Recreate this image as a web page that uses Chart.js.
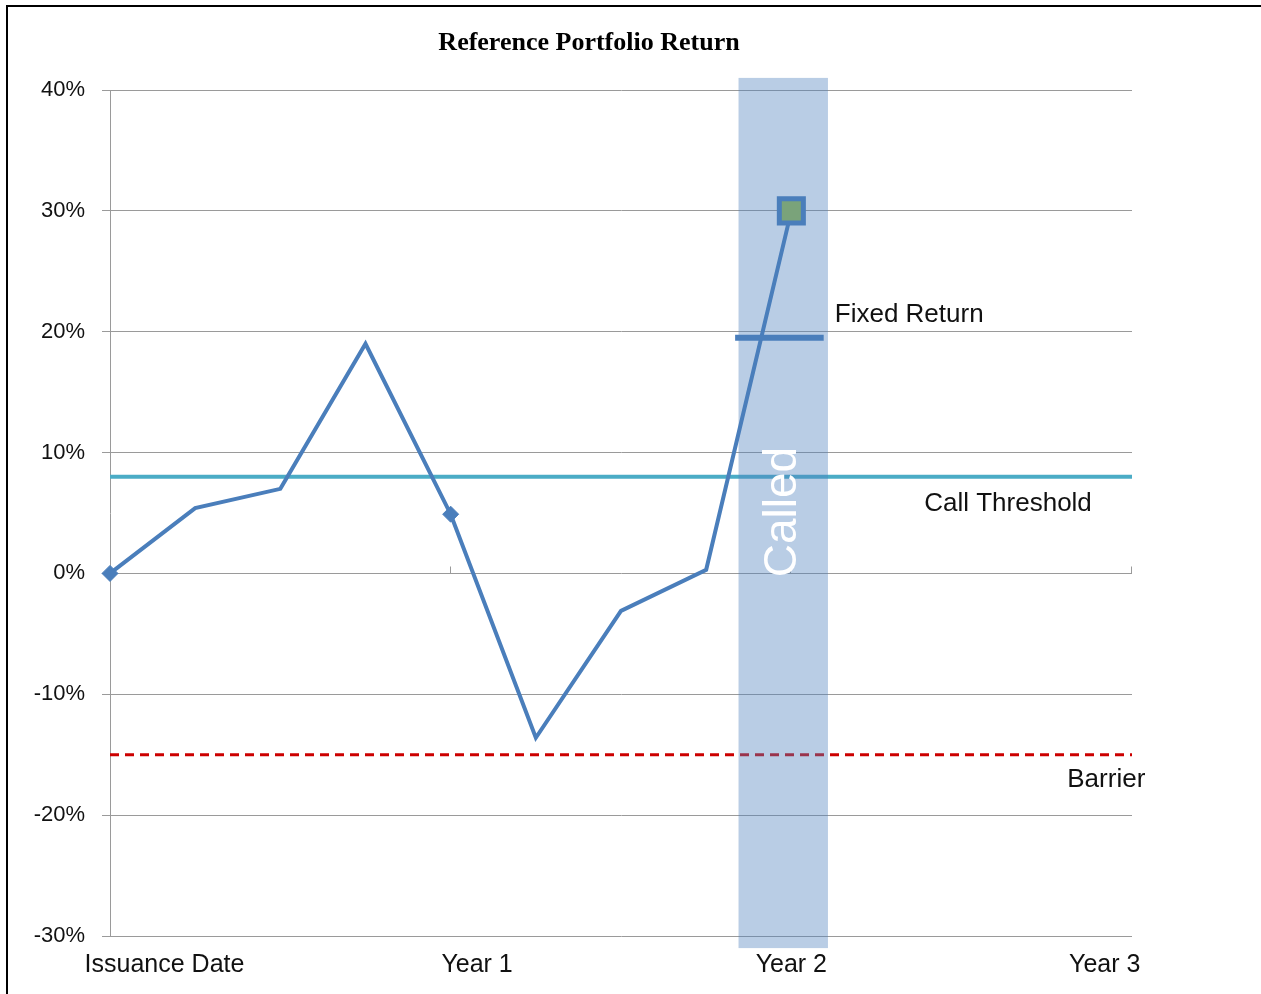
<!DOCTYPE html>
<html>
<head>
<meta charset="utf-8">
<title>Reference Portfolio Return</title>
<script src="https://cdn.jsdelivr.net/npm/chart.js@4.4.0/dist/chart.umd.min.js"></script>
<style>
  body { margin: 0; background: #fff; }
  #wrap { position: relative; width: 1261px; height: 994px; }
  #frame { position: absolute; left: 6px; top: 5px; right: 0; bottom: 0;
           border-left: 2px solid #000; border-top: 2px solid #000; pointer-events: none; }
</style>
</head>
<body>
<div id="wrap">
  <canvas id="myChart" width="1261" height="994"></canvas>
  <div id="frame"></div>
</div>
<script>
// quarters since issuance, and the portfolio return (%) at each one
let quarters = [0, 1, 2, 3, 4, 5, 6, 7, 8];
let portfolio_returns = [0, 5.4, 7.0, 19.0, 4.9, -13.6, -3.1, 0.3, 30];

let call_threshold = 8;
let barrier = -15;
let fixed_return = 19.5;
let fixed_return_span = [7.34, 8.38];   // quarters
let called_span = [7.38, 8.43];         // quarters
let called_band_y = [-31, 41];          // band runs a little past the axes

let x_labels = ['Issuance Date', 'Year 1', 'Year 2', 'Year 3'];
let x_label_at = [0.64, 4.31, 8.0, 11.68];
let year_marks = [4, 8, 12];

let y_min = -30;
let y_max = 40;
let y_step = 10;

let notes = [
  { text: 'Fixed Return', x: 8.51, y: 21.4 },
  { text: 'Call Threshold', x: 9.56, y: 5.74 },
  { text: 'Barrier', x: 11.24, y: -17.1 }
];
let called_text = { text: 'Called', x: 7.91, y: 5.08 };

const LINE_BLUE = '#4a7ebb';
const GRID = '#9a9a9a';

function pairs(xs, ys) {
  return xs.map(function (x, i) { return { x: x, y: ys[i] }; });
}

const extras = {
  id: 'extras',
  beforeDatasetsDraw(chart) {
    // little tick marks on the 0% line at each year
    const ctx = chart.ctx, x = chart.scales.x, y = chart.scales.y;
    const y0 = Math.round(y.getPixelForValue(0)) + 0.5;
    ctx.save();
    ctx.strokeStyle = GRID;
    ctx.lineWidth = 1;
    year_marks.forEach(function (v) {
      const px = Math.round(x.getPixelForValue(v)) - 0.5;
      ctx.beginPath();
      ctx.moveTo(px, y0);
      ctx.lineTo(px, y0 - 7);
      ctx.stroke();
    });
    ctx.restore();
  },
  beforeDatasetDraw(chart, args) {
    if (chart.data.datasets[args.index].label !== 'Reference Portfolio') return;
    const ctx = chart.ctx, x = chart.scales.x, y = chart.scales.y;
    const x1 = x.getPixelForValue(called_span[0]);
    const x2 = x.getPixelForValue(called_span[1]);
    const yt = y.getPixelForValue(called_band_y[1]);
    const yb = y.getPixelForValue(called_band_y[0]);
    ctx.save();
    ctx.fillStyle = 'rgba(79,129,189,0.4)';
    ctx.fillRect(x1, yt, x2 - x1, yb - yt);
    ctx.translate(x.getPixelForValue(called_text.x), y.getPixelForValue(called_text.y));
    ctx.rotate(-Math.PI / 2);
    ctx.fillStyle = '#ffffff';
    ctx.font = '46px "Liberation Sans", Arial, sans-serif';
    ctx.textAlign = 'center';
    ctx.textBaseline = 'middle';
    ctx.fillText(called_text.text, 0, 0);
    ctx.restore();
  },
  afterDraw(chart) {
    const ctx = chart.ctx, x = chart.scales.x, y = chart.scales.y;
    ctx.save();
    ctx.fillStyle = '#111';
    ctx.font = '26px "Liberation Sans", Arial, sans-serif';
    ctx.textAlign = 'left';
    ctx.textBaseline = 'middle';
    notes.forEach(function (n) {
      ctx.fillText(n.text, x.getPixelForValue(n.x), y.getPixelForValue(n.y));
    });
    ctx.fillStyle = '#000';
    ctx.font = 'bold 26px "Liberation Serif", "Times New Roman", serif';
    ctx.textAlign = 'center';
    ctx.fillText('Reference Portfolio Return', 589, 43);
    ctx.restore();
  }
};

let myChart = new Chart(document.getElementById('myChart'), {
  type: 'line',
  data: {
    datasets: [
      {
        label: 'Fixed Return',
        data: pairs(fixed_return_span, [fixed_return, fixed_return]),
        borderColor: LINE_BLUE,
        borderWidth: 6,
        pointRadius: 0,
        order: 0
      },
      {
        label: 'Reference Portfolio',
        data: pairs(quarters, portfolio_returns),
        borderColor: LINE_BLUE,
        backgroundColor: function (c) { return c.dataIndex === 8 ? '#7aa37a' : LINE_BLUE; },
        borderWidth: 4,
        tension: 0,
        clip: false,
        pointStyle: function (c) { return c.dataIndex === 8 ? 'rect' : 'rectRot'; },
        pointRadius: [8, 0, 0, 0, 8, 0, 0, 0, 17],
        pointBorderWidth: [1, 0, 0, 0, 1, 0, 0, 0, 5],
        pointBorderColor: LINE_BLUE,
        order: 1
      },
      {
        label: 'Call Threshold',
        data: pairs([0, 12], [call_threshold, call_threshold]),
        borderColor: '#4bacc6',
        borderWidth: 4,
        pointRadius: 0,
        clip: false,
        order: 3
      },
      {
        label: 'Barrier',
        data: pairs([0, 12], [barrier, barrier]),
        borderColor: '#cc0000',
        borderWidth: 3,
        borderDash: [9, 6],
        pointRadius: 0,
        order: 4
      }
    ]
  },
  options: {
    responsive: false,
    animation: false,
    layout: { padding: { left: 0, top: 90, right: 129, bottom: 0 } },
    plugins: { legend: { display: false }, tooltip: { enabled: false }, title: { display: false } },
    scales: {
      x: {
        type: 'linear',
        min: 0,
        max: 12,
        afterBuildTicks: function (axis) {
          axis.ticks = x_label_at.map(function (v) { return { value: v }; });
        },
        afterFit: function (axis) { axis.height = 58; },
        ticks: {
          autoSkip: false,
          maxRotation: 0,
          padding: 14,
          color: '#111',
          font: { family: '"Liberation Sans", Arial, sans-serif', size: 25 },
          callback: function (v, i) { return x_labels[i]; }
        },
        grid: { display: false, drawTicks: false },
        border: { display: false }
      },
      y: {
        min: y_min,
        max: y_max,
        afterFit: function (axis) { axis.width = 110; },
        ticks: {
          stepSize: y_step,
          padding: 17,
          color: '#111',
          font: { family: '"Liberation Sans", Arial, sans-serif', size: 22 },
          callback: function (v) { return v + '%'; }
        },
        grid: { color: GRID, lineWidth: 1, tickLength: 8 },
        border: { display: true, color: GRID, width: 1 }
      }
    }
  },
  plugins: [extras]
});
</script>
</body>
</html>
